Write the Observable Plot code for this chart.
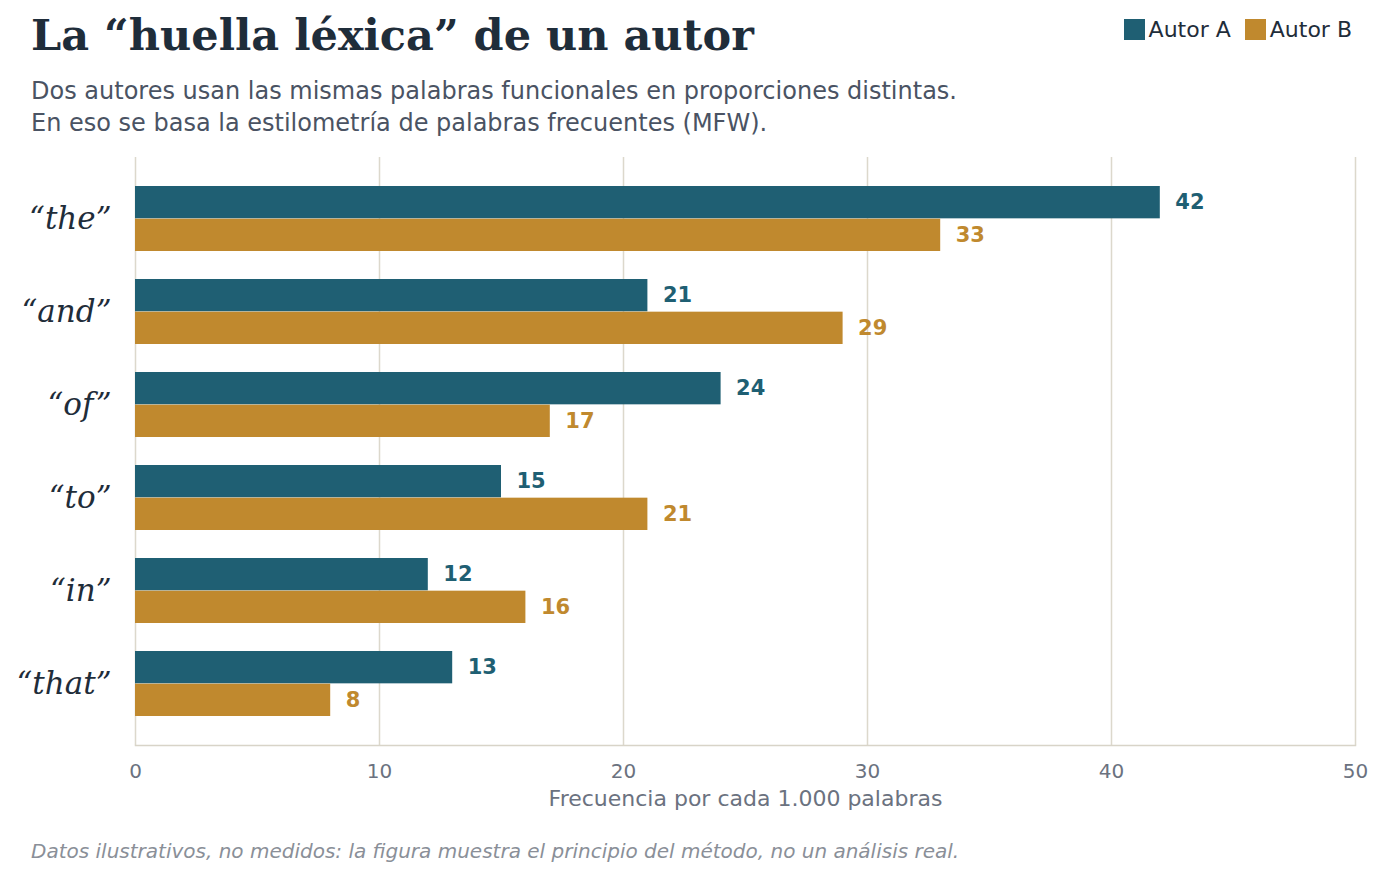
<!DOCTYPE html>
<html><head><meta charset="utf-8">
<script src="https://cdn.jsdelivr.net/npm/d3@7"></script>
<script src="https://cdn.jsdelivr.net/npm/@observablehq/plot@0.6"></script>
<style>
body{margin:0;background:#fff;font-family:"DejaVu Sans",sans-serif;width:1386px;height:878px;position:relative;overflow:hidden}
#title{position:absolute;left:31px;top:10px;font-family:"DejaVu Serif",serif;font-weight:bold;font-size:43px;color:#1f2d3a}
#sub{position:absolute;left:31px;top:75px;font-size:24px;line-height:32px;color:#4a5363}
#legend{position:absolute;right:34px;top:17px;font-size:22px;color:#1f2d3a;display:flex;gap:14px}
#legend span{display:flex;align-items:center;gap:4px}
#legend i{display:inline-block;width:21px;height:21px}
#chart{position:absolute;left:0;top:150px}
#cap{position:absolute;left:31px;top:839px;font-size:20px;font-style:italic;color:#8a8f98}
</style></head><body>
<div id="title">La “huella léxica” de un autor</div>
<div id="sub">Dos autores usan las mismas palabras funcionales en proporciones distintas.<br>En eso se basa la estilometría de palabras frecuentes (MFW).</div>
<div id="legend"><span><i style="background:#1f5f73"></i>Autor A</span><span><i style="background:#c0892e"></i>Autor B</span></div>
<div id="chart"></div>
<div id="cap">Datos ilustrativos, no medidos: la figura muestra el principio del método, no un análisis real.</div>
<script>
const words = ["“the”","“and”","“of”","“to”","“in”","“that”"];
const autorA = [42,21,24,15,12,13];
const autorB = [33,29,17,21,16,8];
const authors = ["Autor A","Autor B"];
const colors = ["#1f5f73","#c0892e"];
const xTicks = [0,10,20,30,40,50];
const dA = words.map((w,i)=>({w,v:autorA[i]}));
const dB = words.map((w,i)=>({w,v:autorB[i]}));
const half = 588/(6.3)*0.7/2;
const plot = Plot.plot({
  width:1386,height:680,marginLeft:135,marginRight:31,marginTop:7,marginBottom:85,
  style:{fontFamily:"DejaVu Sans",background:"#fff"},
  x:{domain:[0,50],ticks:xTicks,label:null},
  y:{domain:words,padding:0.3,label:null},
  marks:[
    Plot.ruleX(xTicks,{stroke:"#dcd8cc",strokeWidth:1.5}),
    Plot.barX(dA,{y:"w",x:"v",fill:colors[0],insetBottom:half}),
    Plot.barX(dB,{y:"w",x:"v",fill:colors[1],insetTop:half}),
    Plot.text(dA,{y:"w",x:"v",text:d=>String(d.v),fill:colors[0],dx:15,dy:-half/2,textAnchor:"start",fontWeight:"bold",fontSize:21}),
    Plot.text(dB,{y:"w",x:"v",text:d=>String(d.v),fill:colors[1],dx:15,dy:half/2,textAnchor:"start",fontWeight:"bold",fontSize:21}),
    Plot.frame({anchor:"bottom",stroke:"#d8d4c8",strokeWidth:1.5}),
    Plot.axisY({tickSize:0,fontSize:31,fontFamily:"DejaVu Serif",fontStyle:"italic",fill:"#1f2d3a",tickPadding:24,label:null}),
    Plot.axisX({ticks:xTicks,tickSize:0,fontSize:20,fill:"#6b7280",tickPadding:18,label:null}),
    Plot.text(["Frecuencia por cada 1.000 palabras"],{frameAnchor:"bottom",dy:60,fontSize:22,fill:"#6b7280"})
  ]
});
document.getElementById("chart").appendChild(plot);
</script>
</body></html>
